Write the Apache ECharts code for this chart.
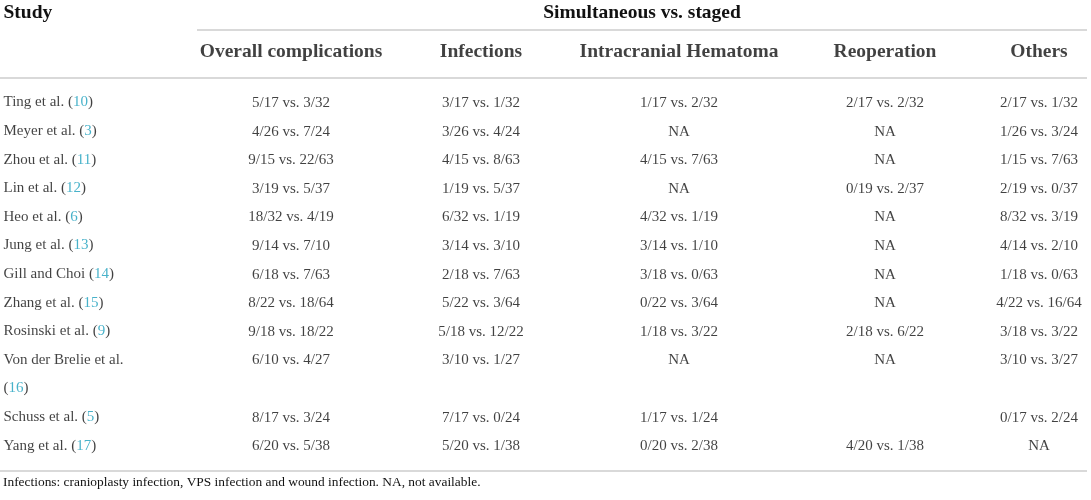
<!DOCTYPE html>
<html>
<head>
<meta charset="utf-8">
<script src="https://cdn.jsdelivr.net/npm/echarts@6/dist/echarts.min.js"></script>
<style>
  html, body { margin: 0; padding: 0; background: #fff; }
  #main { width: 1091px; height: 500px; }
</style>
</head>
<body>
<div id="main"></div>
<script>
var chart = echarts.init(document.getElementById('main'));

// table content
var studies = ['Ting et al.', 'Meyer et al.', 'Zhou et al.', 'Lin et al.', 'Heo et al.', 'Jung et al.',
  'Gill and Choi', 'Zhang et al.', 'Rosinski et al.', 'Von der Brelie et al.', 'Schuss et al.', 'Yang et al.'];
var refs = ['10', '3', '11', '12', '6', '13', '14', '15', '9', '16', '5', '17'];
var colHeaders = ['Overall complications', 'Infections', 'Intracranial Hematoma', 'Reoperation', 'Others'];
var overall = ['5/17 vs. 3/32', '4/26 vs. 7/24', '9/15 vs. 22/63', '3/19 vs. 5/37', '18/32 vs. 4/19', '9/14 vs. 7/10',
  '6/18 vs. 7/63', '8/22 vs. 18/64', '9/18 vs. 18/22', '6/10 vs. 4/27', '8/17 vs. 3/24', '6/20 vs. 5/38'];
var infections = ['3/17 vs. 1/32', '3/26 vs. 4/24', '4/15 vs. 8/63', '1/19 vs. 5/37', '6/32 vs. 1/19', '3/14 vs. 3/10',
  '2/18 vs. 7/63', '5/22 vs. 3/64', '5/18 vs. 12/22', '3/10 vs. 1/27', '7/17 vs. 0/24', '5/20 vs. 1/38'];
var hematoma = ['1/17 vs. 2/32', 'NA', '4/15 vs. 7/63', 'NA', '4/32 vs. 1/19', '3/14 vs. 1/10',
  '3/18 vs. 0/63', '0/22 vs. 3/64', '1/18 vs. 3/22', 'NA', '1/17 vs. 1/24', '0/20 vs. 2/38'];
var reoperation = ['2/17 vs. 2/32', 'NA', 'NA', '0/19 vs. 2/37', 'NA', 'NA',
  'NA', 'NA', '2/18 vs. 6/22', 'NA', '', '4/20 vs. 1/38'];
var others = ['2/17 vs. 1/32', '1/26 vs. 3/24', '1/15 vs. 7/63', '2/19 vs. 0/37', '8/32 vs. 3/19', '4/14 vs. 2/10',
  '1/18 vs. 0/63', '4/22 vs. 16/64', '3/18 vs. 3/22', '3/10 vs. 3/27', '0/17 vs. 2/24', 'NA'];
var footnote = 'Infections: cranioplasty infection, VPS infection and wound infection. NA, not available.';

// layout (x in px along the hidden x axis, y in row units)
var colX = [291, 481, 679, 885, 1039];
var studyX = 4;
var wrapStudy = 'Von der Brelie et al.';
var ROW_H = 28.6;
var FONT = 'Liberation Serif';
var INK = '#111111';

var columns = [overall, infections, hematoma, reoperation, others];

// assign rows; the long name breaks onto a second line
var rowOf = [];
var r = 0;
studies.forEach(function (s) {
  rowOf.push(r);
  r += (s === wrapStudy) ? 2 : 1;
});

var studyData = studies.map(function (s, i) {
  var txt = (s === wrapStudy)
    ? '{n|' + s + '}\n{n|(}{r|' + refs[i] + '}{n|)}'
    : '{n|' + s + ' (}{r|' + refs[i] + '}{n|)}';
  return { value: [studyX, rowOf[i]], label: { formatter: txt } };
});

var cellData = [];
columns.forEach(function (col, c) {
  col.forEach(function (v, i) {
    cellData.push({ value: [colX[c], rowOf[i]], label: { formatter: v } });
  });
});

var headData = colHeaders.map(function (h, c) {
  return { value: [colX[c], -1.79], label: { formatter: h } };
});

var option = {
  backgroundColor: '#ffffff',
  animation: false,
  grid: { left: 0, right: 0, top: 0, bottom: 0 },
  xAxis: { type: 'value', min: 0, max: 1091, show: false },
  yAxis: { type: 'value', inverse: true, min: -3.6, max: 13.88, show: false },
  graphic: [
    { type: 'line', shape: { x1: 197, y1: 30, x2: 1087, y2: 30 }, style: { stroke: '#cdcdcd', lineWidth: 1.6 } },
    { type: 'line', shape: { x1: 0, y1: 78, x2: 1087, y2: 78 }, style: { stroke: '#cdcdcd', lineWidth: 1.6 } },
    { type: 'line', shape: { x1: 0, y1: 471, x2: 1087, y2: 471 }, style: { stroke: '#cdcdcd', lineWidth: 1.6 } },
    { type: 'text', x: 3.5, y: 12.5, style: { text: 'Study', font: 'bold 19.5px "Liberation Serif"', fill: INK,
      align: 'left', verticalAlign: 'middle' } },
    { type: 'text', x: 642, y: 12.5, style: { text: 'Simultaneous vs. staged', font: 'bold 19.5px "Liberation Serif"',
      fill: INK, align: 'center', verticalAlign: 'middle' } },
    { type: 'text', x: 3, y: 482.5, style: { text: footnote, font: '13.4px "Liberation Serif"',
      fill: INK, align: 'left', verticalAlign: 'middle' } }
  ],
  series: [
    {
      type: 'scatter', name: 'headers', silent: true, symbolSize: 1,
      itemStyle: { color: 'rgba(0,0,0,0)' },
      label: { show: true, position: 'inside', fontFamily: FONT, fontSize: 19.5, fontWeight: 'bold', color: INK },
      data: headData
    },
    {
      type: 'scatter', name: 'studies', silent: true, symbolSize: 1,
      itemStyle: { color: 'rgba(0,0,0,0)' },
      label: {
        show: true, position: [0, 0], offset: [0, -ROW_H / 2], align: 'left', verticalAlign: 'top',
        rich: {
          n: { fontFamily: FONT, fontSize: 15, color: INK, lineHeight: ROW_H },
          r: { fontFamily: FONT, fontSize: 15, color: '#1a9fbd', lineHeight: ROW_H }
        }
      },
      data: studyData
    },
    {
      type: 'scatter', name: 'cells', silent: true, symbolSize: 1,
      itemStyle: { color: 'rgba(0,0,0,0)' },
      label: { show: true, position: 'inside', fontFamily: FONT, fontSize: 15, color: INK },
      data: cellData
    }
  ]
};

chart.setOption(option);
</script>
</body>
</html>
